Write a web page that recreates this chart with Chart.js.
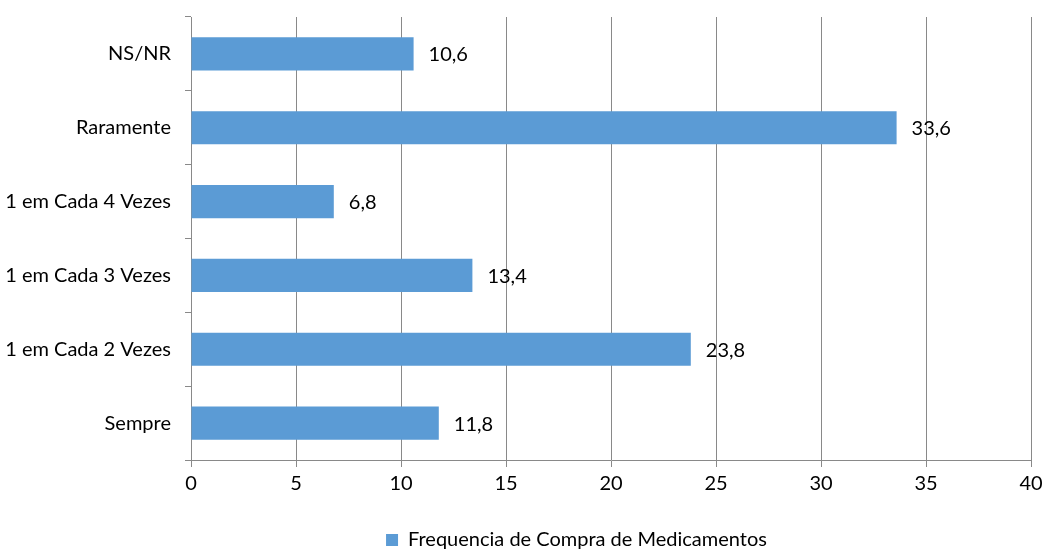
<!DOCTYPE html>
<html>
<head>
<meta charset="utf-8">
<script src="https://cdn.jsdelivr.net/npm/chart.js@4.4.0/dist/chart.umd.min.js"></script>
<style>
  html, body { margin: 0; padding: 0; background: #fff; }
  #wrap { width: 1043px; height: 549px; }
</style>
</head>
<body>
<div id="wrap"><canvas id="chart"></canvas></div>
<script>
// Frequência de compra de medicamentos (%)
const categories = ['NS/NR', 'Raramente', '1 em Cada 4 Vezes', '1 em Cada 3 Vezes', '1 em Cada 2 Vezes', 'Sempre'];
const values = [10.6, 33.6, 6.8, 13.4, 23.8, 11.8];
const seriesName = 'Frequencia de Compra de Medicamentos';
const xTicks = [0, 5, 10, 15, 20, 25, 30, 35, 40];

const FONT = 'Lato, "Open Sans", sans-serif';
const GRID = '#898989';
const TEXT = '#000';

Chart.defaults.font.family = FONT;
Chart.defaults.font.size = 20;
Chart.defaults.color = TEXT;

// rótulos com o valor à direita de cada barra (vírgula decimal)
const valueLabels = {
    id: 'valueLabels',
    afterDatasetsDraw(chart) {
        const ctx = chart.ctx;
        const meta = chart.getDatasetMeta(0);
        ctx.save();
        ctx.font = '20px ' + FONT;
        ctx.fillStyle = TEXT;
        ctx.textAlign = 'left';
        ctx.textBaseline = 'middle';
        meta.data.forEach((bar, i) => {
            const txt = values[i].toFixed(1).replace('.', ',');
            ctx.fillText(txt, bar.x + 15, bar.y + 1);
        });
        ctx.restore();
    }
};

// desloca a legenda um pouco para a direita e para baixo
const legendShift = {
    id: 'legendShift',
    afterLayout(chart) {
        const lg = chart.legend;
        if (!lg) return;
        lg.left += 61; lg.right += 61;
        lg.top += 11; lg.bottom += 11;
    }
};

new Chart(document.getElementById('chart'), {
    type: 'bar',
    data: {
        labels: categories,
        datasets: [{
            label: seriesName,
            data: values,
            backgroundColor: '#5b9bd5',
            borderWidth: 0,
            categoryPercentage: 1,
            barPercentage: 0.45
        }]
    },
    options: {
        indexAxis: 'y',
        responsive: true,
        maintainAspectRatio: false,
        animation: false,
        layout: { padding: { top: 17, right: 12, left: 0, bottom: 0 } },
        plugins: {
            legend: {
                position: 'bottom',
                labels: {
                    boxWidth: 12,
                    boxHeight: 12,
                    padding: 6,
                    font: { size: 20 },
                    color: TEXT
                }
            },
            tooltip: { enabled: false }
        },
        scales: {
            x: {
                min: 0,
                max: 40,
                afterBuildTicks(s) { s.ticks = xTicks.map(v => ({ value: v })); },
                grid: { color: GRID, lineWidth: 1, tickLength: 7 },
                border: { color: GRID, width: 1 },
                ticks: { padding: 5, color: TEXT, maxRotation: 0 },
                afterFit(s) {
                    const lh = s.chart.legend ? s.chart.legend.height : 0;
                    s.height = 549 - 460 - lh;
                    s.paddingLeft = 0;
                    s.paddingRight = 0;
                }
            },
            y: {
                grid: { offset: true, drawOnChartArea: false, color: GRID, tickLength: 6 },
                border: { color: GRID, width: 1 },
                ticks: { padding: 14, color: TEXT },
                afterFit(s) {
                    s.width = 191;
                    s.paddingTop = 0;
                    s.paddingBottom = 0;
                }
            }
        }
    },
    plugins: [valueLabels, legendShift]
});
</script>
</body>
</html>
